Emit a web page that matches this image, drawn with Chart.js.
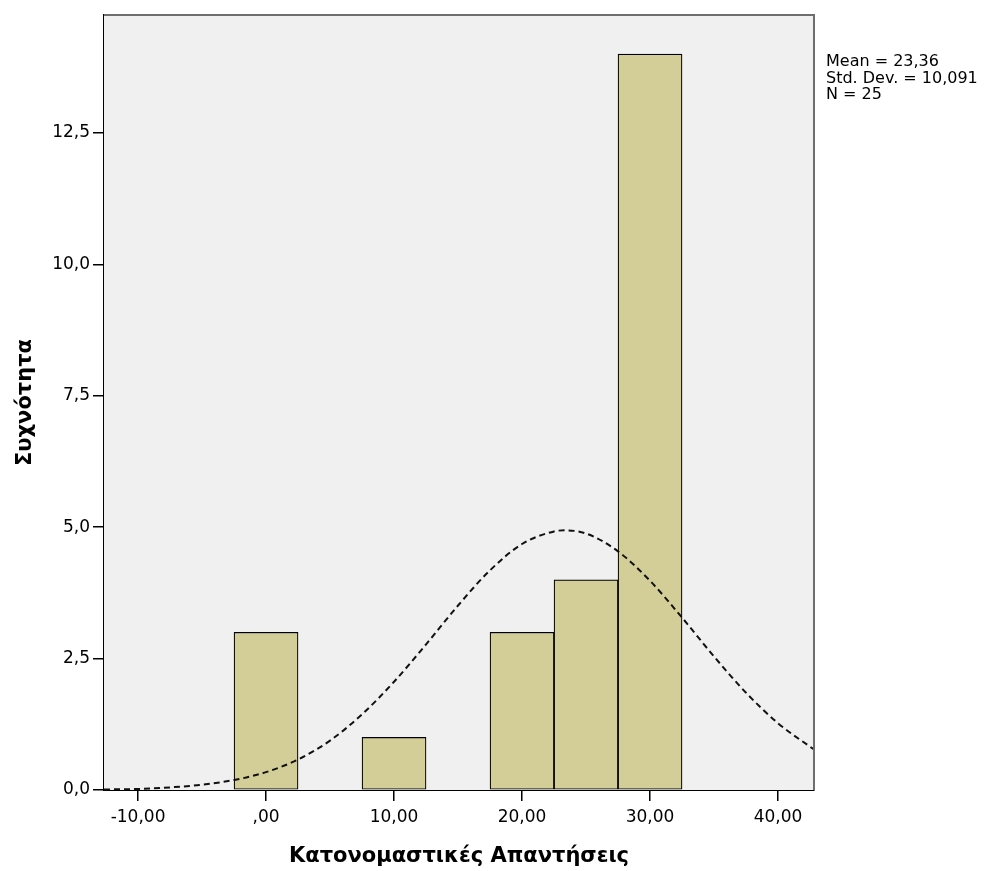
<!DOCTYPE html>
<html>
<head>
<meta charset="utf-8">
<script src="https://cdn.jsdelivr.net/npm/chart.js@4/dist/chart.umd.min.js"></script>
<style>
  body { margin: 0; background: #fff; }
</style>
</head>
<body>
<canvas id="histChart" width="990" height="871"></canvas>
<script>
// Ιστόγραμμα: κέντρα κλάσεων (πλάτος 5) και συχνότητες
var binCenters = [0, 10, 20, 25, 30];
var binCounts = [3, 1, 3, 4, 14];

// Κανονική καμπύλη πάνω από το ιστόγραμμα
var curveX = [-12.66, -10, -7.5, -5, -2.5, 0, 2.5, 5, 7.5, 10, 12.5, 15, 17.5, 20, 22.5, 23.36, 25, 27.5, 30, 32.5, 35, 37.5, 40, 42.81];
var curveY = [0.01, 0.02, 0.05, 0.1, 0.19, 0.34, 0.58, 0.94, 1.44, 2.06, 2.77, 3.51, 4.18, 4.68, 4.92, 4.94, 4.88, 4.54, 3.98, 3.28, 2.54, 1.85, 1.27, 0.77];

var xTicks = [-10, 0, 10, 20, 30, 40];
var yTicks = [0, 2.5, 5, 7.5, 10, 12.5];

var statsLines = ['Mean = 23,36', 'Std. Dev. = 10,091', 'N = 25'];

Chart.defaults.font.family = 'DejaVu Sans';
Chart.defaults.color = '#000';

var bars = binCenters.map(function (c, i) { return { x: c, y: binCounts[i] }; });
var curve = curveX.map(function (x, i) { return { x: x, y: curveY[i] }; });

var plotFrame = {
    id: 'plotFrame',
    beforeDatasetsDraw: function (chart) {
        var a = chart.chartArea, ctx = chart.ctx;
        ctx.save();
        ctx.fillStyle = '#f0f0f0';
        ctx.fillRect(a.left, a.top, a.right - a.left, a.bottom - a.top);
        ctx.restore();
    },
    afterDraw: function (chart) {
        var a = chart.chartArea, ctx = chart.ctx;
        ctx.save();
        ctx.strokeStyle = '#6e6e6e';
        ctx.lineWidth = 2;
        ctx.beginPath();
        ctx.moveTo(a.left, a.top);
        ctx.lineTo(a.right, a.top);
        ctx.lineTo(a.right, a.bottom);
        ctx.stroke();
        ctx.fillStyle = '#000';
        ctx.font = '16px "DejaVu Sans"';
        ctx.textBaseline = 'alphabetic';
        statsLines.forEach(function (t, i) {
            ctx.fillText(t, a.right + 12, 66 + i * 16.5);
        });
        ctx.restore();
    }
};

var ctx = document.getElementById('histChart').getContext('2d');

var myChart = new Chart(ctx, {
    type: 'bar',
    data: {
        datasets: [{
            type: 'line',
            data: curve,
            borderColor: '#111',
            borderWidth: 2,
            borderDash: [6, 4],
            pointRadius: 0,
            cubicInterpolationMode: 'monotone',
            fill: false,
            order: 0
        }, {
            data: bars,
            backgroundColor: 'rgb(211, 206, 151)',
            borderColor: '#000',
            borderWidth: 1.2,
            borderSkipped: false,
            categoryPercentage: 1.0,
            barPercentage: 1.0,
            order: 1
        }]
    },
    options: {
        responsive: false,
        animation: false,
        layout: {
            padding: { left: 0, top: 15, right: 176, bottom: 0 }
        },
        plugins: {
            legend: { display: false },
            tooltip: { enabled: false }
        },
        scales: {
            x: {
                type: 'linear',
                min: -12.66,
                max: 42.81,
                offset: false,
                afterBuildTicks: function (scale) {
                    scale.ticks = xTicks.map(function (v) { return { value: v }; });
                },
                afterFit: function (scale) { scale.height = 81; },
                ticks: {
                    padding: 6,
                    maxRotation: 0,
                    font: { size: 17 },
                    callback: function (v) {
                        return v === 0 ? ',00' : v.toFixed(2).replace('.', ',');
                    }
                },
                grid: {
                    offset: false,
                    drawOnChartArea: false,
                    drawTicks: true,
                    tickLength: 11,
                    color: '#000',
                    lineWidth: 1.5
                },
                border: { color: '#000', width: 2 },
                title: {
                    display: true,
                    text: 'Κατονομαστικές Απαντήσεις',
                    font: { size: 21, weight: 'bold' },
                    padding: { top: 0, bottom: 2 }
                }
            },
            y: {
                min: 0,
                max: 14.745,
                afterBuildTicks: function (scale) {
                    scale.ticks = yTicks.map(function (v) { return { value: v }; });
                },
                afterFit: function (scale) { scale.width = 104; },
                ticks: {
                    padding: 3,
                    font: { size: 17 },
                    callback: function (v) { return v.toFixed(1).replace('.', ','); }
                },
                grid: {
                    drawOnChartArea: false,
                    drawTicks: true,
                    tickLength: 11,
                    color: '#000',
                    lineWidth: 1.5
                },
                border: { color: '#000', width: 2 },
                title: {
                    display: true,
                    text: 'Συχνότητα',
                    font: { size: 21, weight: 'bold' },
                    padding: { top: 13, bottom: 0 }
                }
            }
        }
    },
    plugins: [plotFrame]
});
</script>
</body>
</html>
